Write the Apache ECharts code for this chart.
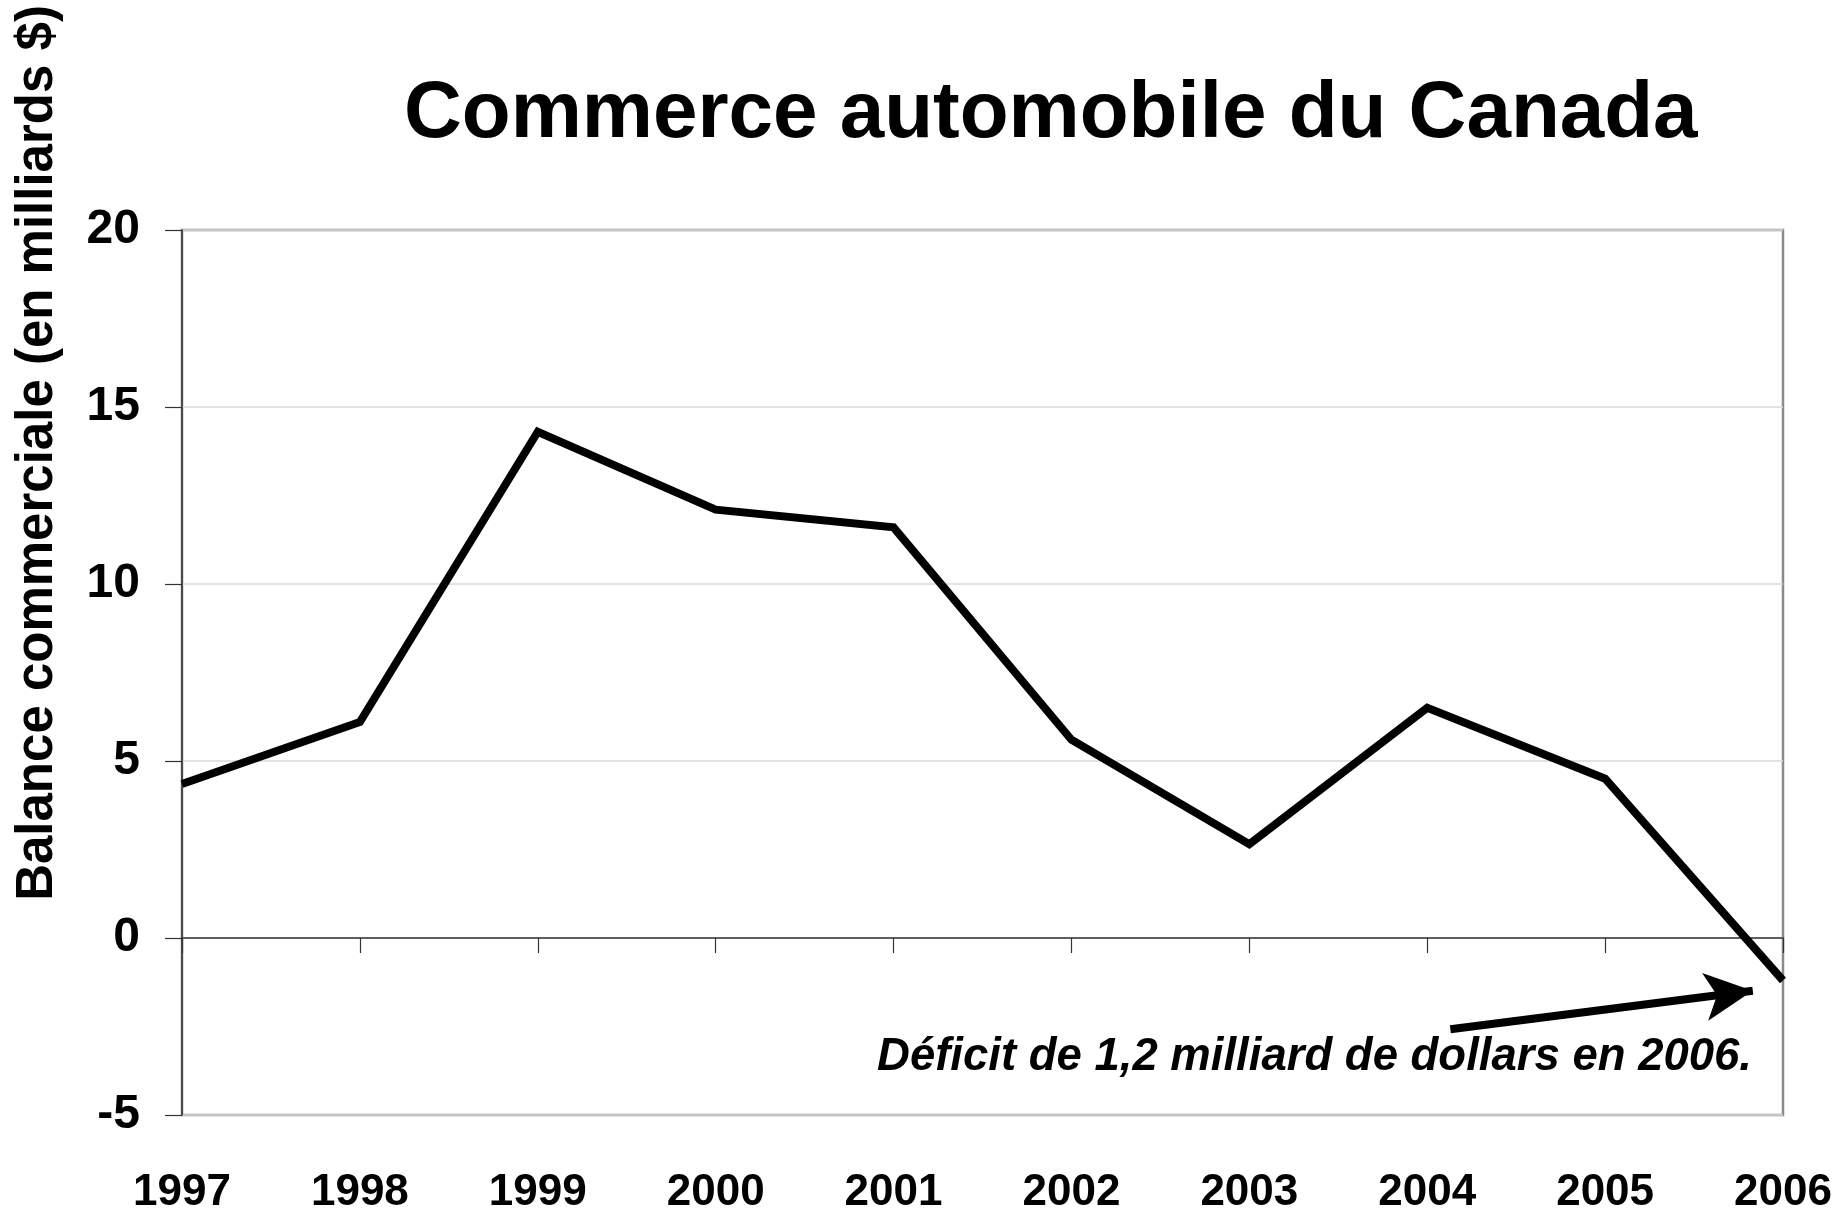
<!DOCTYPE html>
<html>
<head>
<meta charset="utf-8">
<script src="https://cdn.jsdelivr.net/npm/echarts@6/dist/echarts.min.js"></script>
<style>
  html, body { margin: 0; padding: 0; background: #ffffff; }
  #chart { width: 1839px; height: 1215px; }
</style>
</head>
<body>
<div id="chart"></div>
<script>
// ---- Data ----
const years = [1997, 1998, 1999, 2000, 2001, 2002, 2003, 2004, 2005, 2006];
const balance = [4.35, 6.1, 14.3, 12.1, 11.6, 5.6, 2.65, 6.5, 4.5, -1.2];
const yTicks = [-5, 0, 5, 10, 15, 20];
const titleText = 'Commerce automobile du Canada';
const yAxisTitle = 'Balance commerciale (en milliards $)';
const noteText = 'Déficit de 1,2 milliard de dollars en 2006.';
// annotation arrow, in data units: [year, value] tail and tip
const arrowTail = [2004.13, -2.58];
const arrowHead = [2005.83, -1.49];

const FONT = '"Liberation Sans", Arial, Helvetica, sans-serif';

const chart = echarts.init(document.getElementById('chart'), null, { renderer: 'canvas' });

const seriesData = years.map((y, i) => [y, balance[i]]);

const option = {
  backgroundColor: '#ffffff',
  animation: false,
  title: {
    text: titleText,
    left: 399,
    top: 70,
    textStyle: { fontFamily: FONT, fontSize: 80, fontWeight: 'bold', color: '#000' }
  },
  grid: {
    left: 182, right: 56, top: 230, bottom: 90,
    show: true, borderColor: '#8a8a8a', borderWidth: 2.5, backgroundColor: '#ffffff'
  },
  xAxis: [
    {
      type: 'value',
      min: years[0], max: years[years.length - 1], interval: 1,
      position: 'bottom',
      axisLine: { show: false, onZero: false },
      axisTick: { show: false },
      splitLine: { show: false },
      axisLabel: {
        margin: 56,
        fontFamily: FONT, fontSize: 44, fontWeight: 'bold', color: '#000',
        formatter: v => String(v)
      }
    },
    {
      type: 'value',
      min: years[0], max: years[years.length - 1], interval: 1,
      position: 'bottom',
      axisLine: { show: true, onZero: true, lineStyle: { color: '#333', width: 1.5 } },
      axisTick: { show: true, length: 15, lineStyle: { color: '#333', width: 1.2 } },
      splitLine: { show: false },
      axisLabel: { show: false }
    }
  ],
  yAxis: {
    type: 'value',
    min: yTicks[0], max: yTicks[yTicks.length - 1], interval: 5,
    axisLine: { show: true, onZero: false, lineStyle: { color: '#333', width: 1.5 } },
    axisTick: { show: true, length: 17, lineStyle: { color: '#333', width: 1.2 } },
    splitLine: { show: true, lineStyle: { color: '#d9d9d9', width: 1.5 } },
    axisLabel: {
      margin: 42,
      fontFamily: FONT, fontSize: 48, fontWeight: 'bold', color: '#000'
    }
  },
  graphic: [
    {
      type: 'text',
      x: 38, y: 453,
      rotation: Math.PI / 2,
      style: {
        text: yAxisTitle,
        fontFamily: FONT, fontSize: 51, fontWeight: 'bold', fill: '#000',
        textAlign: 'center', textVerticalAlign: 'middle'
      }
    },
    {
      type: 'text',
      x: 1752, y: 1057,
      z: 10,
      style: {
        text: noteText,
        fontFamily: FONT, fontSize: 45.5, fontWeight: 'bold', fontStyle: 'italic', fill: '#000',
        textAlign: 'right', textVerticalAlign: 'middle'
      }
    }
  ],
  series: [
    {
      type: 'line',
      xAxisIndex: 0,
      data: seriesData,
      showSymbol: false,
      symbol: 'none',
      lineStyle: { color: '#000', width: 8, join: 'miter' },
      z: 5,
      markLine: {
        silent: true,
        symbol: ['none', 'arrow'],
        symbolSize: [36, 48],
        label: { show: false },
        lineStyle: { color: '#000', width: 8, type: 'solid' },
        emphasis: { disabled: true },
        data: [[{ coord: arrowTail }, { coord: arrowHead }]]
      }
    }
  ]
};

chart.setOption(option);
</script>
</body>
</html>
